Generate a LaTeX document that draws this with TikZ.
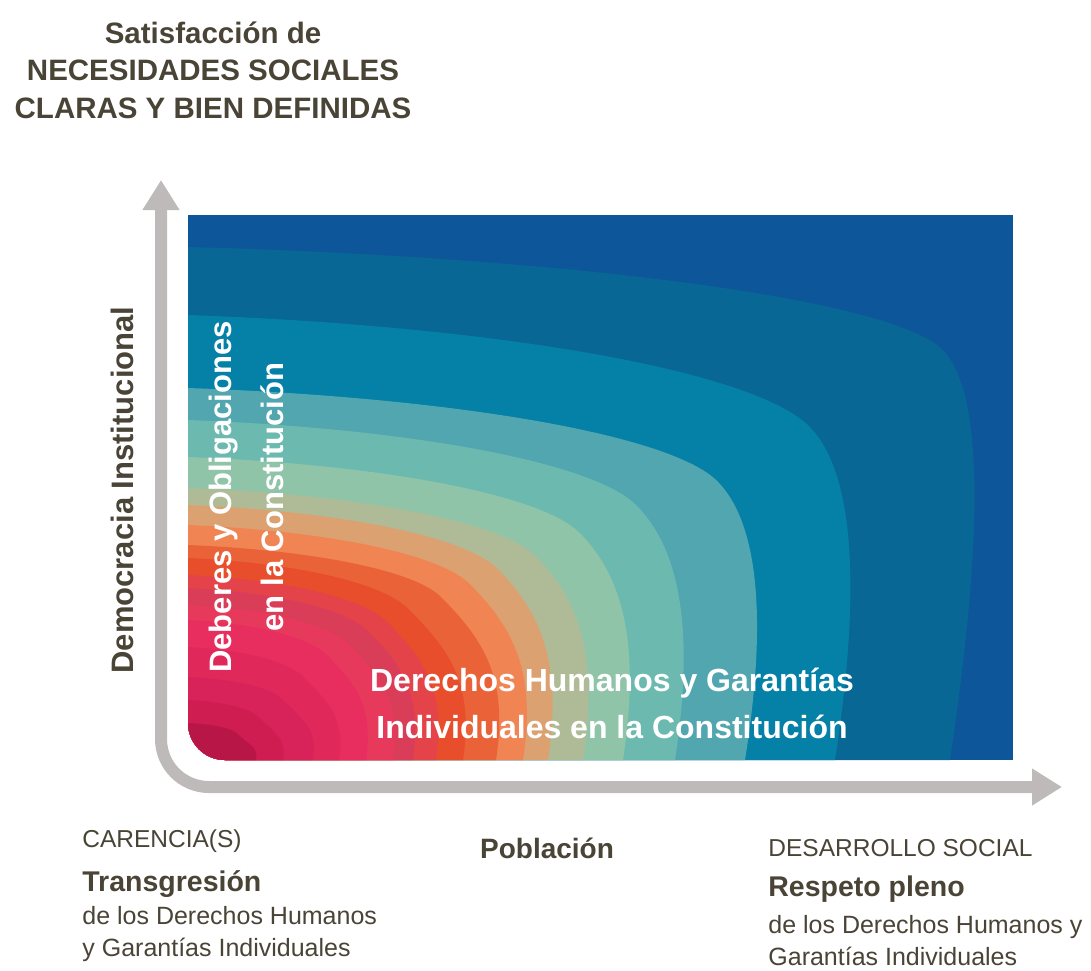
\documentclass[tikz,border=0pt]{standalone}
\usepackage{fontspec}
\setmainfont{Liberation Sans}
\usetikzlibrary{arrows.meta}
\definecolor{ink}{HTML}{4A4437}
\definecolor{axisgray}{HTML}{BEBABA}
\definecolor{deepblue}{HTML}{0D5699}
\tikzset{
  axisarr/.style={draw=axisgray,line width=6pt,rounded corners=24pt,{Triangle[length=15pt,width=17.5pt]}-{Triangle[length=15pt,width=17.5pt]}},
  ttl/.style={text=ink,font=\bfseries\fontsize{14.75}{18.75}\selectfont,align=center,inner sep=0pt},
  axlbl/.style={text=ink,font=\bfseries\fontsize{15.5}{18}\selectfont,inner sep=0pt},
  inlbl/.style={text=white,font=\bfseries\fontsize{15.5}{26}\selectfont,align=center,inner sep=0pt},
  caplbl/.style={text=ink,font=\fontsize{12.25}{15}\selectfont,inner sep=0pt,anchor=base west},
  boldlbl/.style={text=ink,font=\bfseries\fontsize{14.25}{17}\selectfont,inner sep=0pt,anchor=base west},
  txtlbl/.style={text=ink,font=\fontsize{12.5}{15}\selectfont,inner sep=0pt,anchor=base west}
}
\begin{document}
\begin{tikzpicture}[x=0.5pt,y=-0.5pt]
  \useasboundingbox (0,0) rectangle (1091,970);

  % colour field, bands from the outside in
  \begin{scope}
    \clip (188,215) -- (1013,215) -- (1013,760) -- (225,760) .. controls (204.6,760) and (188,743.4) .. (188,723) -- cycle;
    \fill[deepblue] (188,215) rectangle (1013,760);
    \foreach \yl/\xb/\kx/\ky/\hx in {247/950/0.99/0.80/086794, 315/835/0.96/0.75/0580A6,
        388/745/0.95/0.75/51A6B0, 420/675/0.92/0.75/6CB9B0, 457/623/0.90/0.75/90C4A9,
        488/583/0.88/0.75/AFBB96, 505/548/0.86/0.75/DCA171, 525/523/0.84/0.75/F08453,
        545/496/0.82/0.76/EA6237, 558/463/0.80/0.75/E84E2B, 575/436/0.80/0.75/E5434A,
        588/413/0.80/0.75/DA3D58, 605/393/0.78/0.75/E6395B, 620/366/0.78/0.75/E82E5F,
        647/339/0.76/0.74/E0285B, 677/313/0.75/0.74/D8225A, 700/283/0.74/0.72/CF1D51,
        723/256/0.72/0.72/B71647}{
      \pgfmathsetmacro\xk{188+\kx*(\xb-188)}
      \pgfmathsetmacro\yk{760-\ky*(760-\yl)}
      \pgfmathsetmacro\da{\yk-\yl}
      \pgfmathsetmacro\db{760-\yk}
      \pgfmathsetmacro\dc{0.5*max(\xb-\xk,0)+0.1*\db}
      \definecolor{band}{HTML}{\hx}
      \fill[band] (188,\yl) .. controls ({188+0.5*(\xk-188)},{\yl+0.1*\da}) and ({\xk-0.5*\da},{\yk-0.5*\da}) .. (\xk,\yk)
        .. controls ({\xk+\dc},{\yk+\dc}) and ({\xb+0.04*(\xb-188)},{760-0.5*\db}) .. (\xb,760) -- (188,760) -- cycle;
    }
  \end{scope}

  % axes
  \coordinate (ytip) at (161,180);
  \coordinate (origin) at (161,787);
  \coordinate (xtip) at (1062,787);
  \draw[axisarr] (ytip) -- (origin) -- (xtip);

  \node[ttl,anchor=base] (title) at (213,118) {Satisfacción de\\NECESIDADES SOCIALES\\CLARAS Y BIEN DEFINIDAS};
  \node[axlbl,rotate=90,anchor=base] (demo) at (133,490) {Democracia Institucional};
  \node[inlbl,rotate=90,anchor=base] (deberes) at (283,497) {Deberes y Obligaciones\\en la Constitución};
  \node[inlbl,font=\bfseries\fontsize{16}{23.5}\selectfont,anchor=base] (derechos) at (612,738) {Derechos Humanos y Garantías\\Individuales en la Constitución};
  \node[boldlbl,font=\bfseries\fontsize{14}{17}\selectfont,anchor=base] (pob) at (547,858) {Población};

  \node[caplbl] (carencia) at (82,847) {CARENCIA(S)};
  \node[boldlbl] (transg) at (82,891) {Transgresión};
  \node[txtlbl] (transgA) at (82,924) {de los Derechos Humanos};
  \node[txtlbl] (transgB) at (82,956) {y Garantías Individuales};

  \node[caplbl] (desarrollo) at (768,856) {DESARROLLO SOCIAL};
  \node[boldlbl] (respeto) at (768,896) {Respeto pleno};
  \node[txtlbl] (respetoA) at (768,933) {de los Derechos Humanos y};
  \node[txtlbl] (respetoB) at (768,965) {Garantías Individuales};
\end{tikzpicture}
\end{document}
